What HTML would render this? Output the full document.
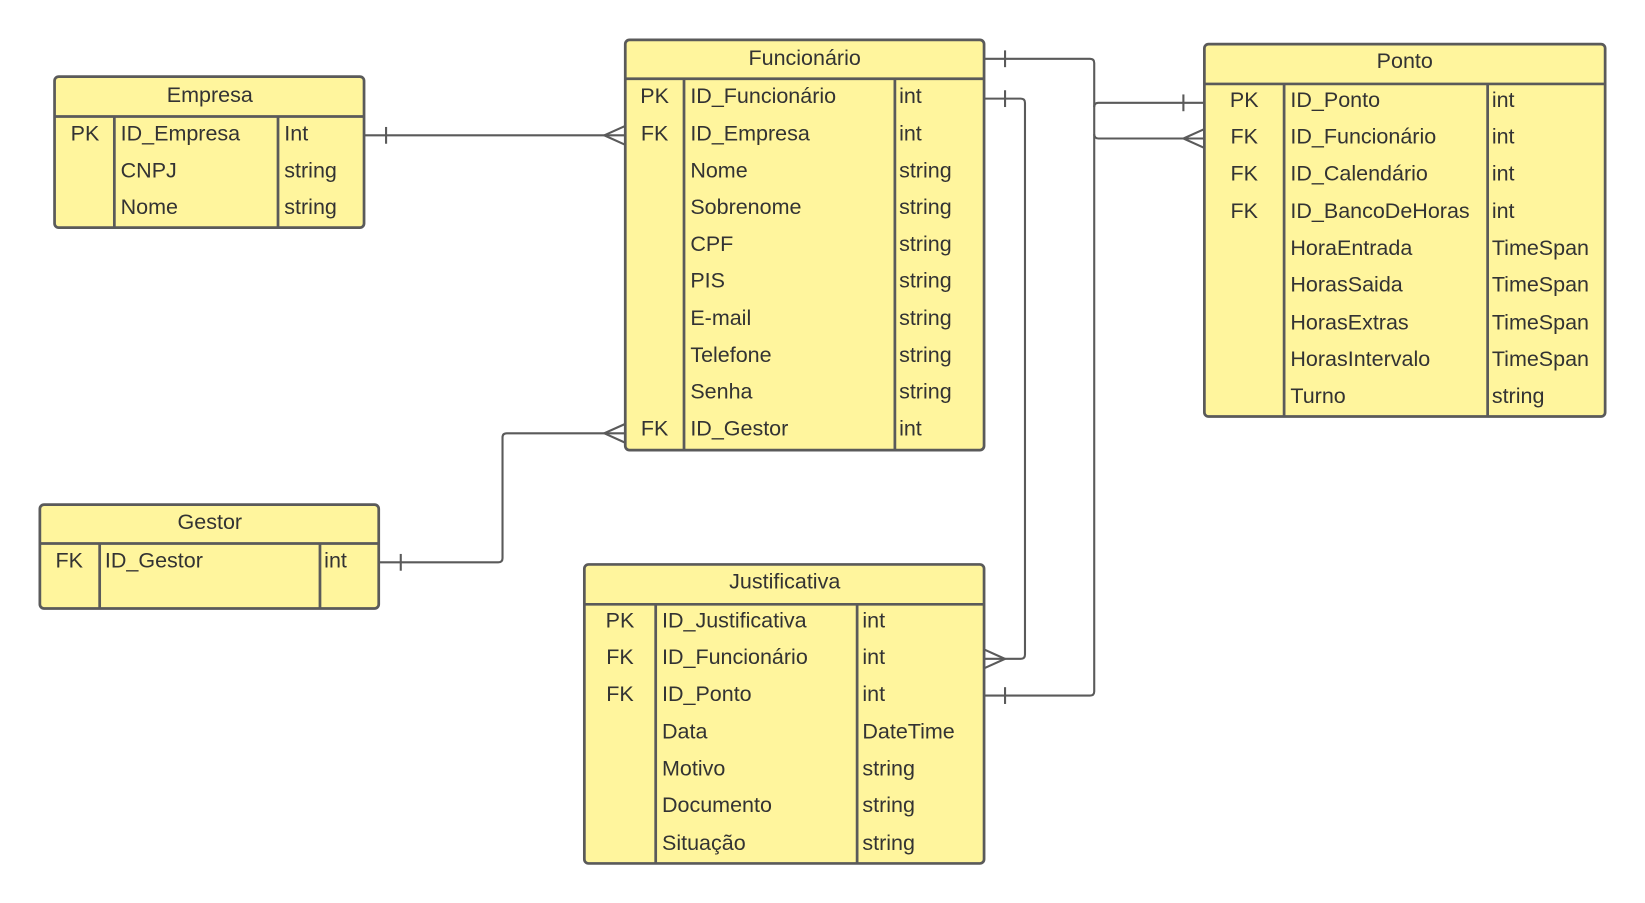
<!DOCTYPE html>
<html><head><meta charset="utf-8"><style>
html,body{margin:0;padding:0;background:#fff;}
svg{display:block;}
text{font-family:"Liberation Sans",sans-serif;fill:#333;font-size:20.5px;}
.h{text-anchor:middle;}
.k{text-anchor:middle;}
</style></head><body>
<svg width="1645" height="903" viewBox="0 0 1568 860.7" xmlns="http://www.w3.org/2000/svg">
<g fill="none" stroke="#5a5a5a" stroke-width="2">
<path d="M347 129 H596"/><path d="M368 121 V137"/><path d="M596 120 L576 129 L596 138"/>
<path d="M361 536 H475 Q479 536 479 532 V417 Q479 413 483 413 H596"/><path d="M382 528 V544"/><path d="M596 404 L576 413 L596 422"/>
<path d="M938 56 H1039 Q1043 56 1043 60 V659 Q1043 663 1039 663 H938"/><path d="M958 48 V64"/><path d="M958 655 V671"/>
<path d="M1043 102 Q1043 98 1047 98 H1148"/><path d="M1128 90 V106"/>
<path d="M1043 128 Q1043 132 1047 132 H1148"/><path d="M1148 123 L1128 132 L1148 141"/>
<path d="M938 94 H973 Q977 94 977 98 V624 Q977 628 973 628 H938"/><path d="M958 86 V102"/><path d="M938 619 L958 628 L938 637"/>
</g>
<g fill="#fff59d" stroke="#5a5a5a" stroke-width="2.6">
<rect x="52" y="73" width="295" height="144" rx="4"/>
<rect x="596" y="38" width="342" height="391" rx="4"/>
<rect x="1148" y="42" width="382" height="355" rx="4"/>
<rect x="38" y="481" width="323" height="99" rx="4"/>
<rect x="557" y="538" width="381" height="285" rx="4"/>
</g>
<g stroke="#5a5a5a" stroke-width="2.6">
<path d="M52 111 H347 M109 111 V217 M265 111 V217"/>
<path d="M596 75 H938 M652 75 V429 M853 75 V429"/>
<path d="M1148 80 H1530 M1224 80 V397 M1418 80 V397"/>
<path d="M38 518 H361 M95 518 V580 M305 518 V580"/>
<path d="M557 576 H938 M625 576 V823 M817 576 V823"/>
</g>
<text class="h" x="200" y="97">Empresa</text>
<text class="k" x="81" y="134">PK</text><text x="115" y="134">ID_Empresa</text><text x="271" y="134">Int</text>
<text x="115" y="169">CNPJ</text><text x="271" y="169">string</text>
<text x="115" y="204">Nome</text><text x="271" y="204">string</text>
<text class="h" x="767" y="62">Funcionário</text>
<text class="k" x="624" y="98">PK</text><text x="658" y="98">ID_Funcionário</text><text x="857" y="98">int</text>
<text class="k" x="624" y="134">FK</text><text x="658" y="134">ID_Empresa</text><text x="857" y="134">int</text>
<text x="658" y="169">Nome</text><text x="857" y="169">string</text>
<text x="658" y="204">Sobrenome</text><text x="857" y="204">string</text>
<text x="658" y="239">CPF</text><text x="857" y="239">string</text>
<text x="658" y="274">PIS</text><text x="857" y="274">string</text>
<text x="658" y="310">E-mail</text><text x="857" y="310">string</text>
<text x="658" y="345">Telefone</text><text x="857" y="345">string</text>
<text x="658" y="380">Senha</text><text x="857" y="380">string</text>
<text class="k" x="624" y="415">FK</text><text x="658" y="415">ID_Gestor</text><text x="857" y="415">int</text>
<text class="h" x="1339" y="65">Ponto</text>
<text class="k" x="1186" y="102">PK</text><text x="1230" y="102">ID_Ponto</text><text x="1422" y="102">int</text>
<text class="k" x="1186" y="137">FK</text><text x="1230" y="137">ID_Funcionário</text><text x="1422" y="137">int</text>
<text class="k" x="1186" y="172">FK</text><text x="1230" y="172">ID_Calendário</text><text x="1422" y="172">int</text>
<text class="k" x="1186" y="208">FK</text><text x="1230" y="208">ID_BancoDeHoras</text><text x="1422" y="208">int</text>
<text x="1230" y="243">HoraEntrada</text><text x="1422" y="243">TimeSpan</text>
<text x="1230" y="278">HorasSaida</text><text x="1422" y="278">TimeSpan</text>
<text x="1230" y="314">HorasExtras</text><text x="1422" y="314">TimeSpan</text>
<text x="1230" y="349">HorasIntervalo</text><text x="1422" y="349">TimeSpan</text>
<text x="1230" y="384">Turno</text><text x="1422" y="384">string</text>
<text class="h" x="200" y="504">Gestor</text>
<text class="k" x="66" y="541">FK</text><text x="100" y="541">ID_Gestor</text><text x="309" y="541">int</text>
<text class="h" x="748" y="561">Justificativa</text>
<text class="k" x="591" y="598">PK</text><text x="631" y="598">ID_Justificativa</text><text x="822" y="598">int</text>
<text class="k" x="591" y="633">FK</text><text x="631" y="633">ID_Funcionário</text><text x="822" y="633">int</text>
<text class="k" x="591" y="668">FK</text><text x="631" y="668">ID_Ponto</text><text x="822" y="668">int</text>
<text x="631" y="704">Data</text><text x="822" y="704">DateTime</text>
<text x="631" y="739">Motivo</text><text x="822" y="739">string</text>
<text x="631" y="774">Documento</text><text x="822" y="774">string</text>
<text x="631" y="810">Situação</text><text x="822" y="810">string</text>
</svg>
</body></html>
